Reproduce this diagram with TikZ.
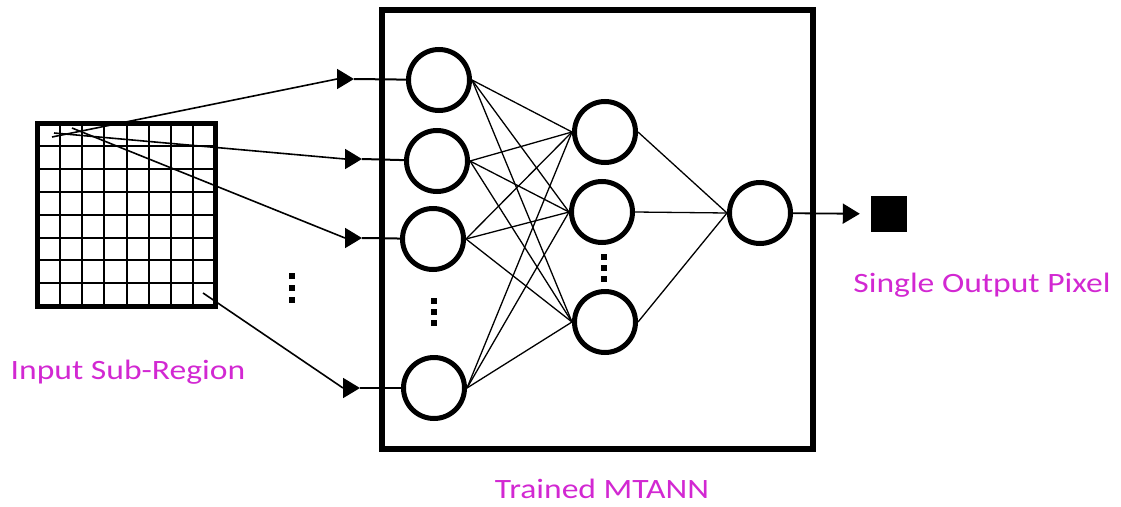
\documentclass[tikz,border=0pt]{standalone}
\usepackage{fontspec}
\newfontfamily\labelfont[FakeStretch=1.2]{Carlito}
\usetikzlibrary{arrows.meta}
\definecolor{labelpink}{RGB}{210,40,210}
\begin{document}
\begin{tikzpicture}[x=1pt,y=-1pt,
  neuron/.style={circle,draw,line width=5pt,minimum size=61pt,inner sep=0pt},
  wire/.style={line width=1.3pt},
  feed/.style={line width=1.6pt},
  headarrow/.style={line width=1.8pt,-{Triangle[length=17pt,width=20pt]}},
  caption/.style={labelpink,font=\labelfont\fontsize{28}{32}\selectfont,anchor=base,inner sep=0pt},
  dotsq/.style={fill=black,minimum size=6.5pt,inner sep=0pt,rectangle}]
\useasboundingbox (0,0) rectangle (1121,506);

% input sub-region: 8x8 grid
\foreach \k in {1,...,7}{
  \draw[line width=2pt] (37.5+\k*22.25,123.5) -- (37.5+\k*22.25,306);
  \draw[line width=2pt] (37.5,123.5+\k*22.8) -- (215.5,123.5+\k*22.8);
}
\node[draw,line width=5pt,minimum width=178pt,minimum height=182.5pt,inner sep=0pt] (grid) at (126.5,214.75) {};

% network box
\node[draw,line width=6.5pt,minimum width=431pt,minimum height=439pt,inner sep=0pt] (box) at (597.5,229.5) {};

% neurons
\node[neuron] (i1) at (439,80) {};
\node[neuron] (i2) at (437,161) {};
\node[neuron] (i3) at (433,239) {};
\node[neuron] (i4) at (434,388) {};
\node[neuron] (h1) at (605,132) {};
\node[neuron] (h2) at (602,212) {};
\node[neuron] (h3) at (605,322) {};
\node[neuron] (o)  at (760,213) {};

% output pixel
\node[fill=black,minimum size=36pt,inner sep=0pt] (px) at (889,214) {};

% feeds from the sub-region
\coordinate (gA) at (52,137);
\coordinate (gB) at (54,133);
\coordinate (gC) at (72,128);
\coordinate (gD) at (203,293);
\coordinate (hA) at (337,79);
\coordinate (hB) at (345,159);
\coordinate (hC) at (345,238);
\coordinate (hD) at (343,388);
\foreach \g/\h/\n in {gA/hA/i1,gB/hB/i2,gC/hC/i3,gD/hD/i4}{
  \draw[feed] (\g) -- (\h);
  \draw[headarrow] (\h) -- ++(17,0) coordinate (t\h);
  \draw[line width=2pt] (t\h) -- (\n);
}

% fully connected layers
\foreach \a in {i1,i2,i3,i4}{
  \foreach \b in {h1,h2,h3}{
    \draw[wire] (\a.east) -- (\b.west);
  }
}
\foreach \b in {h1,h2,h3}{
  \draw[wire] (\b.east) -- (o.west);
}

% output connection
\draw[headarrow,shorten >=11pt] (o) -- (px);

% ellipsis marks
\foreach \y in {276,288,300}{ \node[dotsq] at (292,\y) {}; }
\foreach \y in {301,312,323}{ \node[dotsq] at (434,\y) {}; }
\foreach \y in {257,268,279}{ \node[dotsq] at (604,\y) {}; }

% captions
\node[caption] (lin) at (128,379) {Input Sub-Region};
\node[caption] (lnet) at (602,498) {Trained MTANN};
\node[caption] (lout) at (982,292) {Single Output Pixel};
\end{tikzpicture}
\end{document}
